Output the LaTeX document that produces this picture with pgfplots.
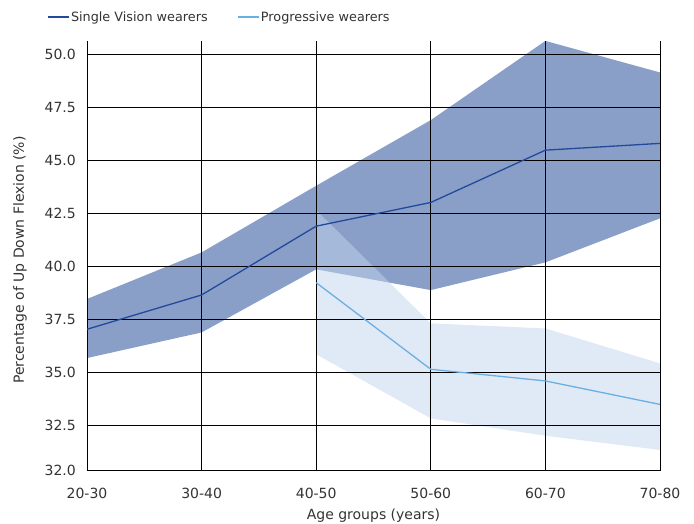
\documentclass[border=0pt]{standalone}
\usepackage{fontspec}
\setmainfont{DejaVu Sans}
\usepackage{pgfplots}
\pgfplotsset{compat=1.18}
\definecolor{svline}{HTML}{22499B}
\definecolor{svband}{HTML}{8A9FC8}
\definecolor{pline}{HTML}{6AAFE2}
\definecolor{pband}{HTML}{C1D5ED}
\definecolor{txt}{HTML}{333333}
\newcommand{\fs}{\fontsize{14bp}{17bp}\selectfont}
\newcommand{\fl}{\fontsize{12.8bp}{15bp}\selectfont}
\begin{document}
\begin{tikzpicture}
\begin{axis}[
  set layers,
  at={(0,0)}, anchor=south west,
  scale only axis, width=573bp, height=430bp,
  xmin=0, xmax=5, ymin=30.34, ymax=50.65,
  xtick={0,...,5}, xticklabels={20-30,30-40,40-50,50-60,60-70,70-80},
  ytick={30.34,32.5,35,37.5,40,42.5,45,47.5,50},
  yticklabels={32.0,32.5,35.0,37.5,40.0,42.5,45.0,47.5,50.0},
  axis x line*=bottom, axis y line*=left,
  axis line style={black, line width=0.8bp, -},
  grid=major, major grid style={black, line width=0.8bp},
  major tick length=0pt,
  tick label style={font=\fs, text=txt},
  yticklabel style={inner sep=0pt, anchor=east, xshift=-11bp},
  xticklabel style={inner sep=0pt, anchor=north, yshift=-17.5bp},
  xlabel={Age groups (years)},
  ylabel={Percentage of Up Down Flexion (\%)},
  every axis x label/.style={at={(rel axis cs:0.5,-0.1047)}, anchor=center, font=\fs, text=txt},
  every axis y label/.style={at={(rel axis cs:-0.1169,0.49)}, rotate=90, anchor=center, font=\fs, text=txt},
  legend columns=2,
  legend image code/.code={\draw[#1] (0bp,0bp) -- (21bp,0bp);},
  legend style={at={(rel axis cs:-0.0698,1.0551)}, anchor=west, draw=none, fill=none,
    inner sep=0pt, font=\fl, text=txt,
    nodes={inner sep=1.5bp, anchor=west},
    /tikz/every even column/.append style={column sep=28bp}},
]
% Single vision band (upper forward, lower backward)
\addplot[on layer=axis background, draw=none, fill=svband, forget plot] coordinates {
  (0,38.45) (1,40.65) (2,43.80) (3,46.90) (4,50.64) (5,49.15)
  (5,42.26) (4,40.18) (3,38.87) (2,39.85) (1,36.87) (0,35.66)
};
% Progressive band
\addplot[on layer=axis background, draw=none, fill=pband, fill opacity=0.5, forget plot] coordinates {
  (2,42.65) (3,37.30) (4,37.06) (5,35.41)
  (5,31.32) (4,31.99) (3,32.81) (2,35.84)
};
\addplot[svline, line width=1.3bp] coordinates {
  (0,37.02) (1,38.64) (2,41.89) (3,43.01) (4,45.48) (5,45.80)
};
\addlegendentry{Single Vision wearers}
\addplot[pline, line width=1.3bp] coordinates {
  (2,39.22) (3,35.13) (4,34.58) (5,33.47)
};
\addlegendentry{Progressive wearers}
\end{axis}
\pgfresetboundingbox
\path[use as bounding box] (-87bp,-53.3bp) rectangle (607bp,470.7bp);
\end{tikzpicture}
\end{document}
